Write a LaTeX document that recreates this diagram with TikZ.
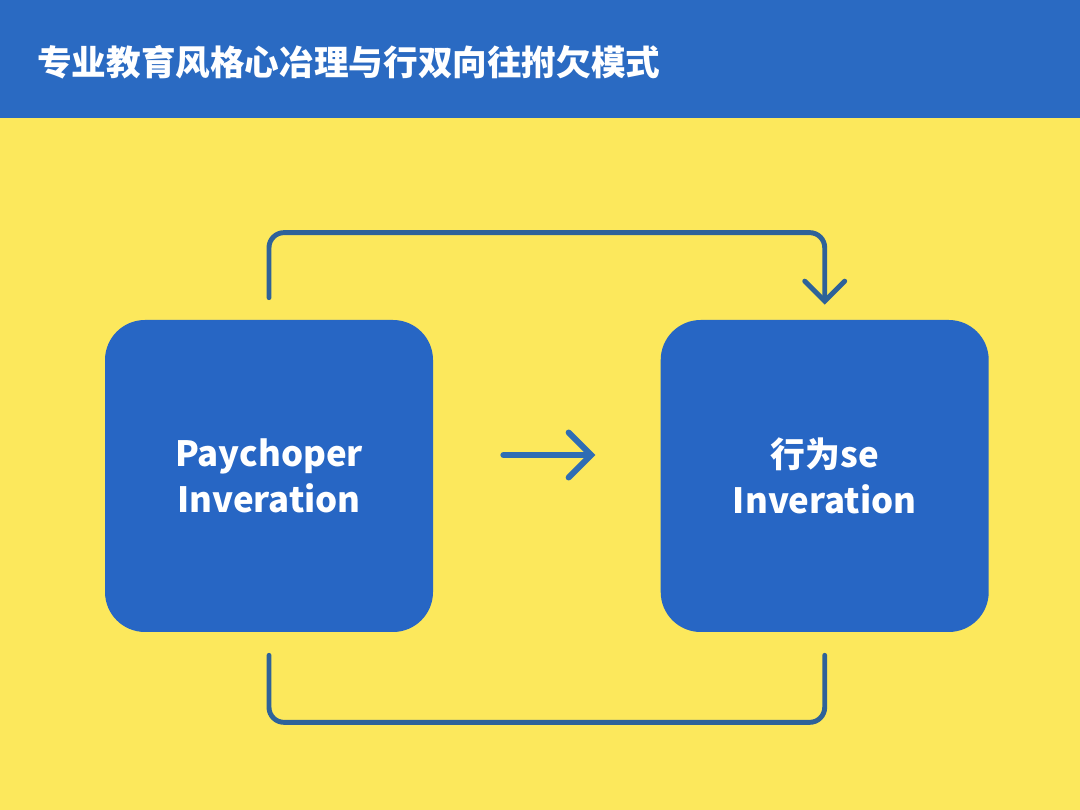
\documentclass[tikz,border=0pt]{standalone}
\usepackage{fontspec}
\setmainfont{Noto Sans CJK SC}
\usepackage{xcolor}
\usepackage{tikz}
\usetikzlibrary{arrows.meta,positioning}
\definecolor{barblue}{HTML}{2A6AC2}
\definecolor{boxblue}{HTML}{2766C4}
\definecolor{linkblue}{HTML}{2E6299}
\definecolor{arrowblue}{HTML}{2E6DB4}
\definecolor{bgyellow}{HTML}{FCE85C}

\begin{document}
\begin{tikzpicture}[
    stagebox/.style={rectangle, rounded corners=0.8cm, fill=boxblue, minimum width=6.56cm, minimum height=6.24cm,
        text=white, align=center, font=\fontsize{19.8pt}{26pt}\selectfont\bfseries},
    link/.style={draw=linkblue, line width=2.8pt, rounded corners=0.3cm, line cap=round}
]
\useasboundingbox (0,0) rectangle (21.6,16.2);
\fill[bgyellow] (0,0) rectangle (21.6,16.2);
\fill[barblue] (0,13.84) rectangle (21.6,16.2);
\node[anchor=west, text=white, font=\fontsize{19.7pt}{24pt}\selectfont\bfseries] (title) at (0.62,14.96)
    {专业教育风格心冶理与行双向往拊欠模式};

\node[stagebox] (psy) at (5.38,6.68) {Paychoper\\Inveration};
\node[stagebox, right=4.54cm of psy] (beh) {行为se\\Inveration};

% forward arrow
\draw[link, draw=arrowblue, line width=3.4pt, -{Straight Barb[length=0.45cm, width=0.9cm, line cap=round]},
    shorten <=1.4cm, shorten >=1.3cm] ([yshift=0.42cm]psy.east) -- ([yshift=0.42cm]beh.west);
% top loop
\draw[link, -{Straight Barb[length=0.4cm, width=0.8cm, line cap=round]}, shorten <=0.44cm, shorten >=0.3cm]
    (psy.north) -- ++(0,1.74) -| (beh.north);
% bottom loop
\draw[link, shorten <=0.46cm, shorten >=0.46cm] (psy.south) -- ++(0,-1.8) -| (beh.south);
\end{tikzpicture}
\end{document}
